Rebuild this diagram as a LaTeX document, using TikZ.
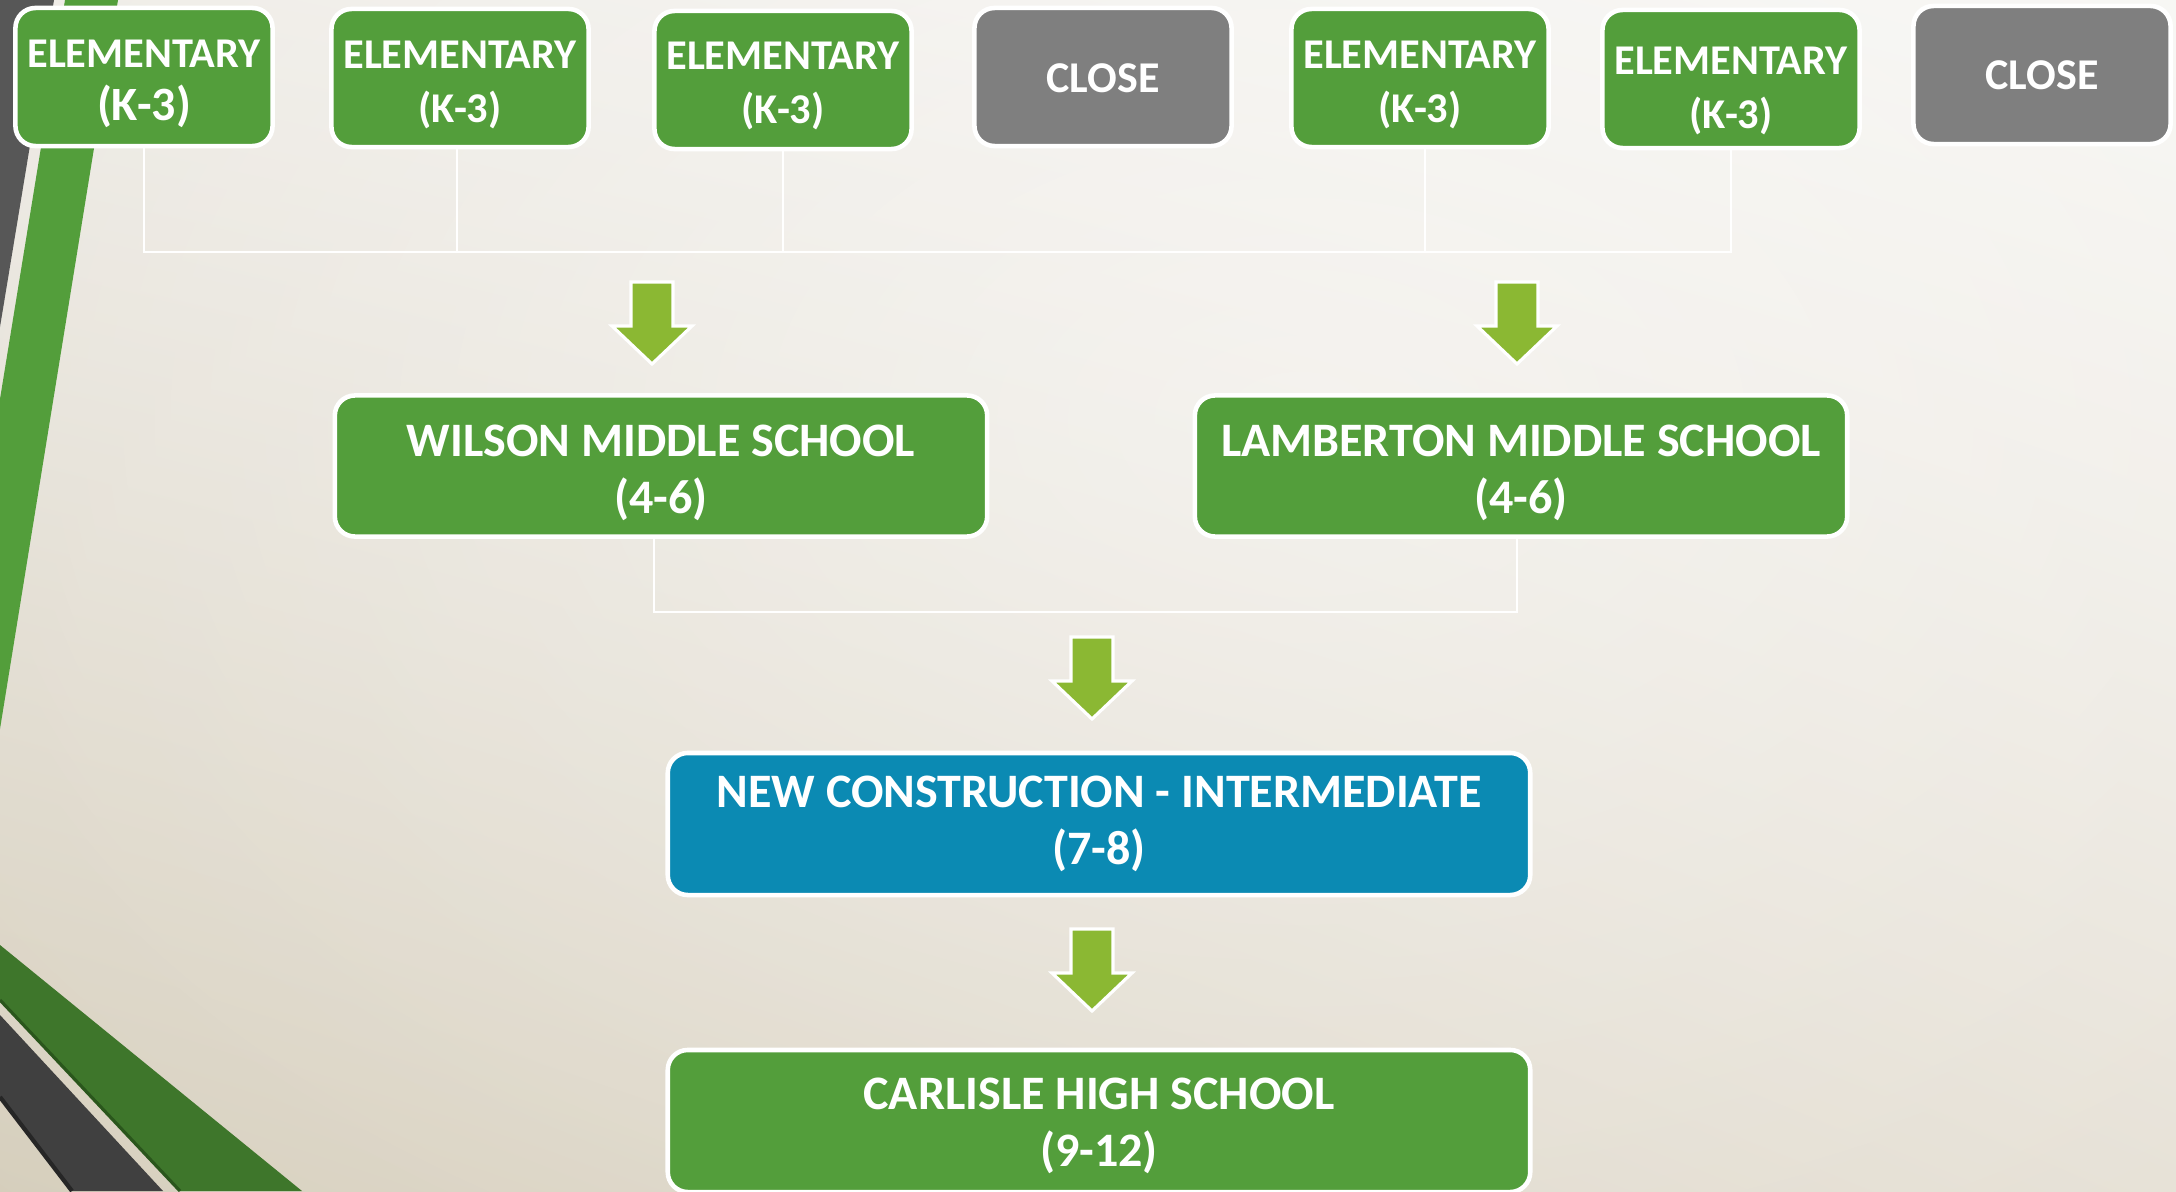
\documentclass[tikz,border=0pt]{standalone}
\usepackage{fontspec}
\setmainfont{Carlito}
\usetikzlibrary{fadings,shadings}

\definecolor{boxgreen}{HTML}{539E3B}
\definecolor{closegray}{HTML}{7F7F7F}
\definecolor{newblue}{HTML}{0B8AB3}
\definecolor{arrowgreen}{HTML}{8BB833}
\definecolor{stripegray}{HTML}{575757}
\definecolor{darkgreen}{HTML}{3E762B}
\definecolor{darkergreen}{HTML}{2A561C}
\definecolor{darkgray}{HTML}{404040}
\definecolor{bgul}{HTML}{EDEAE4}
\definecolor{bgur}{HTML}{F6F5F2}
\definecolor{bgll}{HTML}{D4CCB9}
\definecolor{bglr}{HTML}{E4DED2}

\tikzfading[name=glow, inner color=transparent!0, outer color=transparent!100]

\tikzset{
  school/.style={draw=white, line width=1.3pt, rounded corners=5.7pt, text=white,
    align=center, inner sep=0pt, font=\bfseries\fontsize{13.67}{16.2}\selectfont},
  elem/.style={school, fill=boxgreen, minimum width=2.57cm, minimum height=1.38cm,
    font=\bfseries\fontsize{12.05}{15.2}\selectfont},
  closed/.style={elem, fill=closegray, font=\bfseries\fontsize{12.5}{15.2}\selectfont},
  middle/.style={school, fill=boxgreen, minimum width=6.52cm, minimum height=1.41cm},
  wide/.style={school, minimum width=8.62cm, minimum height=1.42cm},
  link/.style={draw=white, line width=0.75pt},
  blockarrow/.style={fill=arrowgreen, draw=white, line width=0.9pt}
}

% invisible strut that pushes a text block down in its box
\newcommand{\textgap}[1]{\rule{0pt}{#1}}

% block arrow pointing down, top centre at #1
\newcommand{\gradearrow}[1]{%
  \filldraw[blockarrow] (#1) ++(-21,0) -- ++(42,0) -- ++(0,44) -- ++(19,0)
    -- ++(-40,38) -- ++(-40,-38) -- ++(19,0) -- cycle;}

\begin{document}
\begin{tikzpicture}[x=0.01cm, y=-0.01cm]
    \useasboundingbox (0,0) rectangle (2176,1191);

    % Background
    \shade[upper left=bgul, upper right=bgur, lower left=bgll, lower right=bglr]
        (0,0) rectangle (2176,1191);
    \begin{scope}
        \clip (0,0) rectangle (2176,1191);
        \fill[white, fill opacity=0.45, path fading=glow]
            (1300,420) ellipse [x radius=2000, y radius=1300];
    \end{scope}

    % Stripes - top left
    \fill[stripegray] (0,0) -- (54,0) -- (0,327) -- cycle;
    \fill[boxgreen] (65,0) -- (118,0) -- (0,729) -- (0,399) -- cycle;

    % Stripes - bottom left
    \fill[darkgreen] (0,945) -- (302,1191) -- (180,1191) -- (0,1000) -- cycle;
    \draw[darkergreen, line width=0.9pt] (0,1000) -- (180,1191);
    \fill[darkgray] (0,1015) -- (163,1191) -- (72,1191) -- (0,1097) -- cycle;
    \draw[black!85, line width=1.2pt] (0,1097) -- (72,1191);

    % Row 1 - elementary schools
    \node[elem] (elemA) at (144,77) {\textgap{0.41cm}ELEMENTARY\\{\fontsize{13.6}{15.2}\selectfont (K-3)}};
    \node[elem] (elemB) at (460,78) {\textgap{0.41cm}ELEMENTARY\\(K-3)};
    \node[elem] (elemC) at (783,80) {\textgap{0.39cm}ELEMENTARY\\(K-3)};
    \node[closed] (closeA) at (1103,77) {\textgap{0.32cm}CLOSE};
    \node[elem] (elemD) at (1420,78) {\textgap{0.41cm}ELEMENTARY\\(K-3)};
    \node[elem] (elemE) at (1731,79) {\textgap{0.51cm}ELEMENTARY\\(K-3)};
    \node[closed] (closeB) at (2042,75) {CLOSE};

    % Row 2 - middle schools
    \node[middle] (wilson) at (661,466) {\textgap{0.45cm}WILSON MIDDLE SCHOOL\\(4-6)};
    \node[middle] (lamberton) at (1521,466) {\textgap{0.45cm}LAMBERTON MIDDLE SCHOOL\\(4-6)};

    % Row 3 and 4
    \node[wide, fill=newblue] (intermediate) at (1099,824) {NEW CONSTRUCTION - INTERMEDIATE\\(7-8)};
    \node[wide, fill=boxgreen] (carlisle) at (1099,1121) {\textgap{0.42cm}CARLISLE HIGH SCHOOL\\(9-12)};

    % Connectors
    \coordinate (topbus) at (0,252);
    \coordinate (midbus) at (0,612);
    \draw[link] (elemA.south) -- (elemA.south |- topbus) -| (elemE.south);
    \draw[link] ([xshift=-0.03cm]elemB.south) -- ([xshift=-0.03cm]elemB.south |- topbus);
    \draw[link] (elemC.south) -- (elemC.south |- topbus);
    \draw[link] ([xshift=0.05cm]elemD.south) -- ([xshift=0.05cm]elemD.south |- topbus);
    \draw[link] ([xshift=-0.07cm]wilson.south) -- ([xshift=-0.07cm]wilson.south |- midbus)
        -| ([xshift=-0.04cm]lamberton.south);

    % Arrows
    \coordinate (arrA) at (652,282);
    \coordinate (arrB) at (1517,282);
    \coordinate (arrC) at (1092,637);
    \coordinate (arrD) at (1092,929);
    \gradearrow{arrA}
    \gradearrow{arrB}
    \gradearrow{arrC}
    \gradearrow{arrD}
\end{tikzpicture}
\end{document}
